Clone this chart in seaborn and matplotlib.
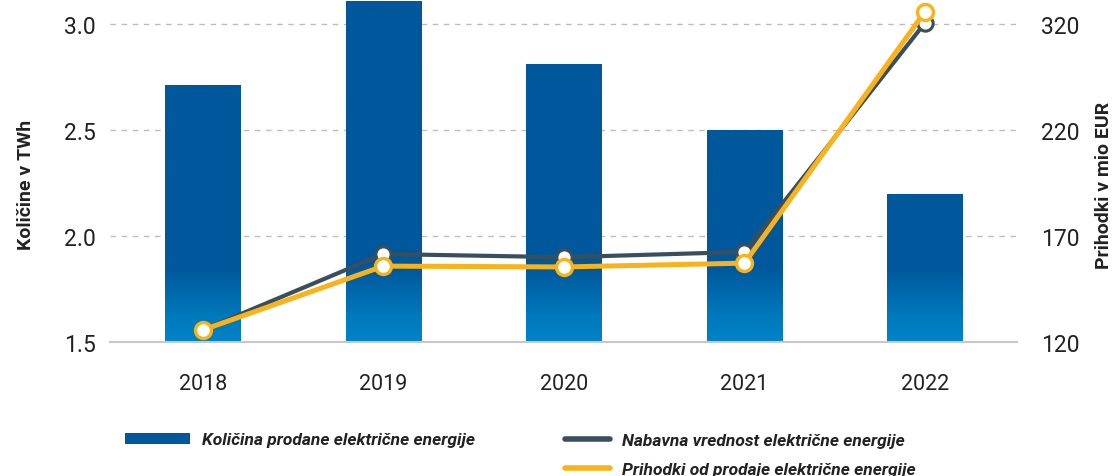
import numpy as np
import pandas as pd
import matplotlib
matplotlib.use("Agg")
import matplotlib.pyplot as plt
from matplotlib.lines import Line2D
from matplotlib.patches import Patch
from matplotlib.colors import LinearSegmentedColormap
import seaborn as sns

# data
years = ["2018", "2019", "2020", "2021", "2022"]
kolicina_twh = [2.71, 3.11, 2.81, 2.50, 2.20]
nabavna_vrednost = [125.7, 161.5, 160.0, 162.5, 270.5]
prihodki = [125.7, 155.8, 155.4, 157.2, 275.8]
left_ticks = [1.5, 2.0, 2.5, 3.0]
right_ticks = [120, 170, 220, 270]
right_labels = ["120", "170", "220", "320"]

BAR_DARK = "#00589c"
BAR_LIGHT = "#0083c8"
LINE_DARK = "#3a4f5c"
LINE_ORANGE = "#f9b21a"
TEXT = "#222222"

sns.set_theme(style="white")
plt.rcParams["font.family"] = ["Roboto", "DejaVu Sans"]

fig = plt.figure(figsize=(11.16, 4.77), dpi=100)
ax = fig.add_axes([110 / 1116, (477 - 343) / 477, (1017 - 110) / 1116, 343 / 477])

df = pd.DataFrame({"year": years, "twh": kolicina_twh})
sns.barplot(data=df, x="year", y="twh", color=BAR_DARK, width=0.42,
            saturation=1, ax=ax, zorder=2, linewidth=0, edgecolor="none")
ax.set_ylim(1.5, 3.118)

# fade to lighter blue near the baseline, drawn inside each bar
cmap = LinearSegmentedColormap.from_list(
    "barfade", [(0, BAR_LIGHT), (0.35, "#0079bd"), (1, BAR_DARK)])
for p in list(ax.patches):
    x0, w = p.get_x(), p.get_width()
    top = p.get_y() + p.get_height()
    yy = np.linspace(1.5, top, 256)
    grad = np.clip((yy - 1.5) / 0.34, 0, 1).reshape(-1, 1)
    im = ax.imshow(grad, cmap=cmap, vmin=0, vmax=1, aspect="auto",
                   origin="lower", interpolation="bilinear",
                   extent=(x0 - 0.02, x0 + w + 0.02, 1.5, top + 0.02), zorder=3)
    im.set_clip_path(p)
ax.set_xlim(-0.515, 4.51)

ax.set_yticks(left_ticks)
ax.set_yticklabels([f"{v:.1f}" for v in left_ticks])
ax.yaxis.grid(True, linestyle=(0, (4, 4)), color="#bdbdbd", linewidth=1)
ax.set_axisbelow(True)
for s in ["top", "right", "left"]:
    ax.spines[s].set_visible(False)
ax.spines["bottom"].set_color("#c8c8c8")
ax.spines["bottom"].set_linewidth(1.5)
ax.spines["bottom"].set_zorder(5)
ax.tick_params(axis="y", length=0, pad=10, labelsize=16.5, labelcolor=TEXT)
ax.tick_params(axis="x", length=0, pad=22, labelsize=15.5, labelcolor=TEXT)
ax.set_xlabel("")
ax.set_ylabel("Količine v TWh", fontsize=14, fontweight="bold", color=TEXT)
ax.yaxis.set_label_coords(-0.083, 0.46)

ax2 = ax.twinx()
xpos = np.arange(len(years))
sns.lineplot(x=xpos, y=nabavna_vrednost, ax=ax2, color=LINE_DARK, linewidth=3,
             marker="o", markersize=11, markerfacecolor="white",
             markeredgecolor=LINE_DARK, markeredgewidth=2.2, zorder=4)
sns.lineplot(x=xpos, y=prihodki, ax=ax2, color=LINE_ORANGE, linewidth=3.6,
             marker="o", markersize=11.5, markerfacecolor="white",
             markeredgecolor=LINE_ORANGE, markeredgewidth=2.4, zorder=5)
ax2.set_ylim(120, 281.8)
ax2.set_yticks(right_ticks)
ax2.set_yticklabels(right_labels)
for s in ["top", "right", "left", "bottom"]:
    ax2.spines[s].set_visible(False)
ax2.grid(False)
ax2.tick_params(axis="y", length=0, pad=17, labelsize=16.5, labelcolor=TEXT)
ax2.set_ylabel("Prihodki v mio EUR", fontsize=14, fontweight="bold",
               color=TEXT)
ax2.yaxis.set_label_coords(1.086, 0.46)

legend_font = {"style": "italic", "weight": "bold", "size": 12.5}
h_bar = [Patch(facecolor=BAR_DARK, edgecolor="none")]
fig.legend(h_bar, ["Količina prodane električne energije"],
           loc="center left", bbox_to_anchor=(125 / 1116, 1 - 441 / 477),
           frameon=False, prop=legend_font, borderpad=0, borderaxespad=0,
           handlelength=3.75, handleheight=0.55, handletextpad=0.7,
           labelcolor=TEXT)
h_lines = [Line2D([], [], color=LINE_DARK, linewidth=4, solid_capstyle="round"),
           Line2D([], [], color=LINE_ORANGE, linewidth=4, solid_capstyle="round")]
fig.legend(h_lines, ["Nabavna vrednost električne energije",
                     "Prihodki od prodaje električne energije"],
           loc="center left", bbox_to_anchor=(565 / 1116, 1 - 456 / 477),
           frameon=False, prop=legend_font, borderpad=0, borderaxespad=0,
           handlelength=2.6, handletextpad=0.7, labelspacing=0.75,
           labelcolor=TEXT)

fig.savefig("out.png", dpi=100)
